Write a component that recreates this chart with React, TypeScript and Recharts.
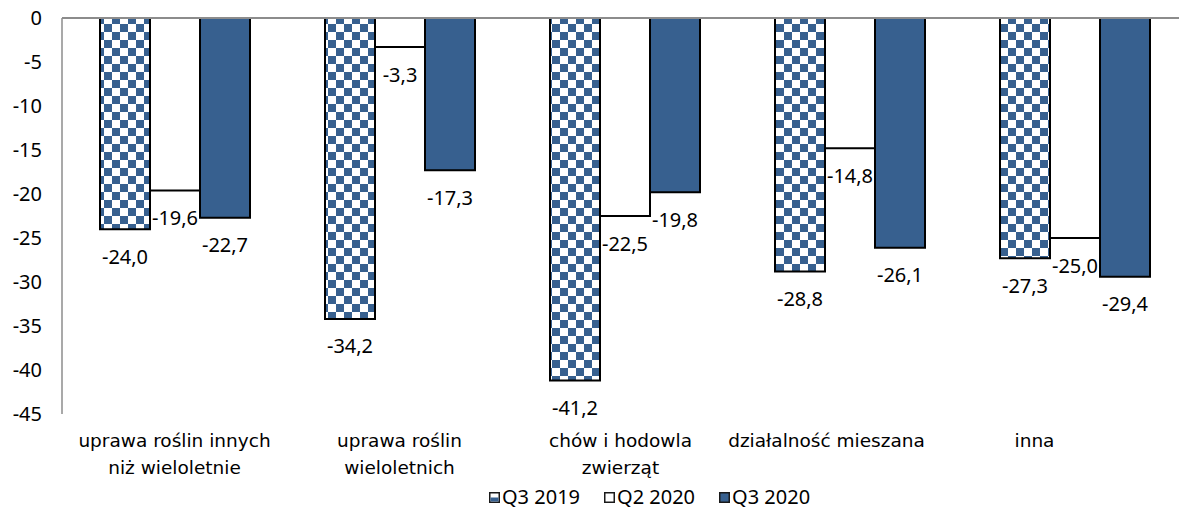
import React from 'react';
import {
  BarChart,
  Bar,
  XAxis,
  YAxis,
  ReferenceLine,
  LabelList,
} from 'recharts';

const categories = [
  ['uprawa roślin innych', 'niż wieloletnie'],
  ['uprawa roślin', 'wieloletnich'],
  ['chów i hodowla', 'zwierząt'],
  ['działalność mieszana'],
  ['inna'],
];
const q3_2019 = [-24.0, -34.2, -41.2, -28.8, -27.3];
const q2_2020 = [-19.6, -3.3, -22.5, -14.8, -25.0];
const q3_2020 = [-22.7, -17.3, -19.8, -26.1, -29.4];
const yTicks = [0, -5, -10, -15, -20, -25, -30, -35, -40, -45];

const BLUE = '#37608f';
const NUM_FONT = '"Noto Sans", "Open Sans", sans-serif';
const CAT_FONT = '"DejaVu Sans", Verdana, sans-serif';
// small horizontal shifts of the category labels, as in the original
const labelShift = [0, 0, -4, -23, -40];

const data = categories.map((c, i) => ({
  name: c.join(' '),
  q3_2019: q3_2019[i],
  q2_2020: q2_2020[i],
  q3_2020: q3_2020[i],
}));

const fmt = (v: number) => v.toFixed(1).replace('.', ',');

const renderLabel = (props: any) => {
  const x = Number(props.x);
  const y = Number(props.y);
  const w = Number(props.width);
  const h = Number(props.height);
  const bottom = Math.max(y, y + h);
  return (
    <text
      x={x + w / 2}
      y={bottom + 27}
      textAnchor="middle"
      dominantBaseline="central"
      fontFamily={NUM_FONT}
      fontSize={20}
      fill="#000"
    >
      {fmt(Number(props.value))}
    </text>
  );
};

const CategoryTick = (props: any) => {
  const { x, payload, index } = props;
  const lines = categories[index] || [payload.value];
  return (
    <g>
      {lines.map((l: string, i: number) => (
        <text
          key={i}
          x={x + (labelShift[index] || 0)}
          y={440 + i * 27}
          textAnchor="middle"
          dominantBaseline="central"
          fontFamily={CAT_FONT}
          fontSize={18.5}
          fill="#000"
        >
          {l}
        </text>
      ))}
    </g>
  );
};

const legendItems = [
  { label: 'Q3 2019', kind: 'check' },
  { label: 'Q2 2020', kind: 'white' },
  { label: 'Q3 2020', kind: 'blue' },
];

function LegendIcon({ kind }: { kind: string }) {
  return (
    <svg width={11} height={11} style={{ marginRight: 2 }}>
      <rect x={0.75} y={0.75} width={9.5} height={9.5} fill={kind === 'blue' ? BLUE : '#fff'} stroke="#1a1a1a" strokeWidth={1.5} />
      {kind === 'check' && <rect x={1.5} y={5.5} width={8} height={4} fill={BLUE} />}
    </svg>
  );
}

export default function App() {
  return (
    <div style={{ position: 'relative', width: 1179, height: 519, overflow: 'hidden', background: '#fff' }}>
      <style>{'body{margin:0;overflow:hidden}'}</style>
      <BarChart
        width={1190}
        height={519}
        data={data}
        margin={{ top: 18, right: 3, bottom: 0, left: 0 }}
        barGap={0}
      >
        <defs>
          <pattern id="checker" patternUnits="userSpaceOnUse" width={16} height={16}>
            <rect x={0} y={0} width={16} height={16} fill="#fff" />
            <rect x={0} y={0} width={8} height={8} fill={BLUE} />
            <rect x={8} y={8} width={8} height={8} fill={BLUE} />
          </pattern>
        </defs>
        <XAxis
          dataKey="name"
          axisLine={false}
          tickLine={false}
          height={105}
          interval={0}
          tick={<CategoryTick />}
        />
        <YAxis
          type="number"
          domain={[-45, 0]}
          ticks={yTicks}
          width={62}
          axisLine={{ stroke: '#8c8c8c', strokeWidth: 1.5 }}
          tickLine={false}
          tickSize={0}
          tickMargin={20}
          tick={{ fontFamily: NUM_FONT, fontSize: 20, fill: '#000' }}
        />
        <Bar dataKey="q3_2019" barSize={50} fill="url(#checker)" stroke="#000" strokeWidth={2} isAnimationActive={false}>
          <LabelList dataKey="q3_2019" content={renderLabel} />
        </Bar>
        <Bar dataKey="q2_2020" barSize={50} fill="#fff" stroke="#000" strokeWidth={2} isAnimationActive={false}>
          <LabelList dataKey="q2_2020" content={renderLabel} />
        </Bar>
        <Bar dataKey="q3_2020" barSize={50} fill={BLUE} stroke="#000" strokeWidth={2} isAnimationActive={false}>
          <LabelList dataKey="q3_2020" content={renderLabel} />
        </Bar>
        <ReferenceLine y={0} stroke="#8c8c8c" strokeWidth={2} />
      </BarChart>
      <div
        style={{
          position: 'absolute',
          left: 489,
          top: 485,
          display: 'flex',
          alignItems: 'center',
          fontFamily: NUM_FONT,
          fontSize: 20,
          color: '#000',
          lineHeight: '24px',
        }}
      >
        {legendItems.map((it) => (
          <div key={it.label} style={{ display: 'flex', alignItems: 'center', marginRight: 24 }}>
            <LegendIcon kind={it.kind} />
            <span>{it.label}</span>
          </div>
        ))}
      </div>
    </div>
  );
}
